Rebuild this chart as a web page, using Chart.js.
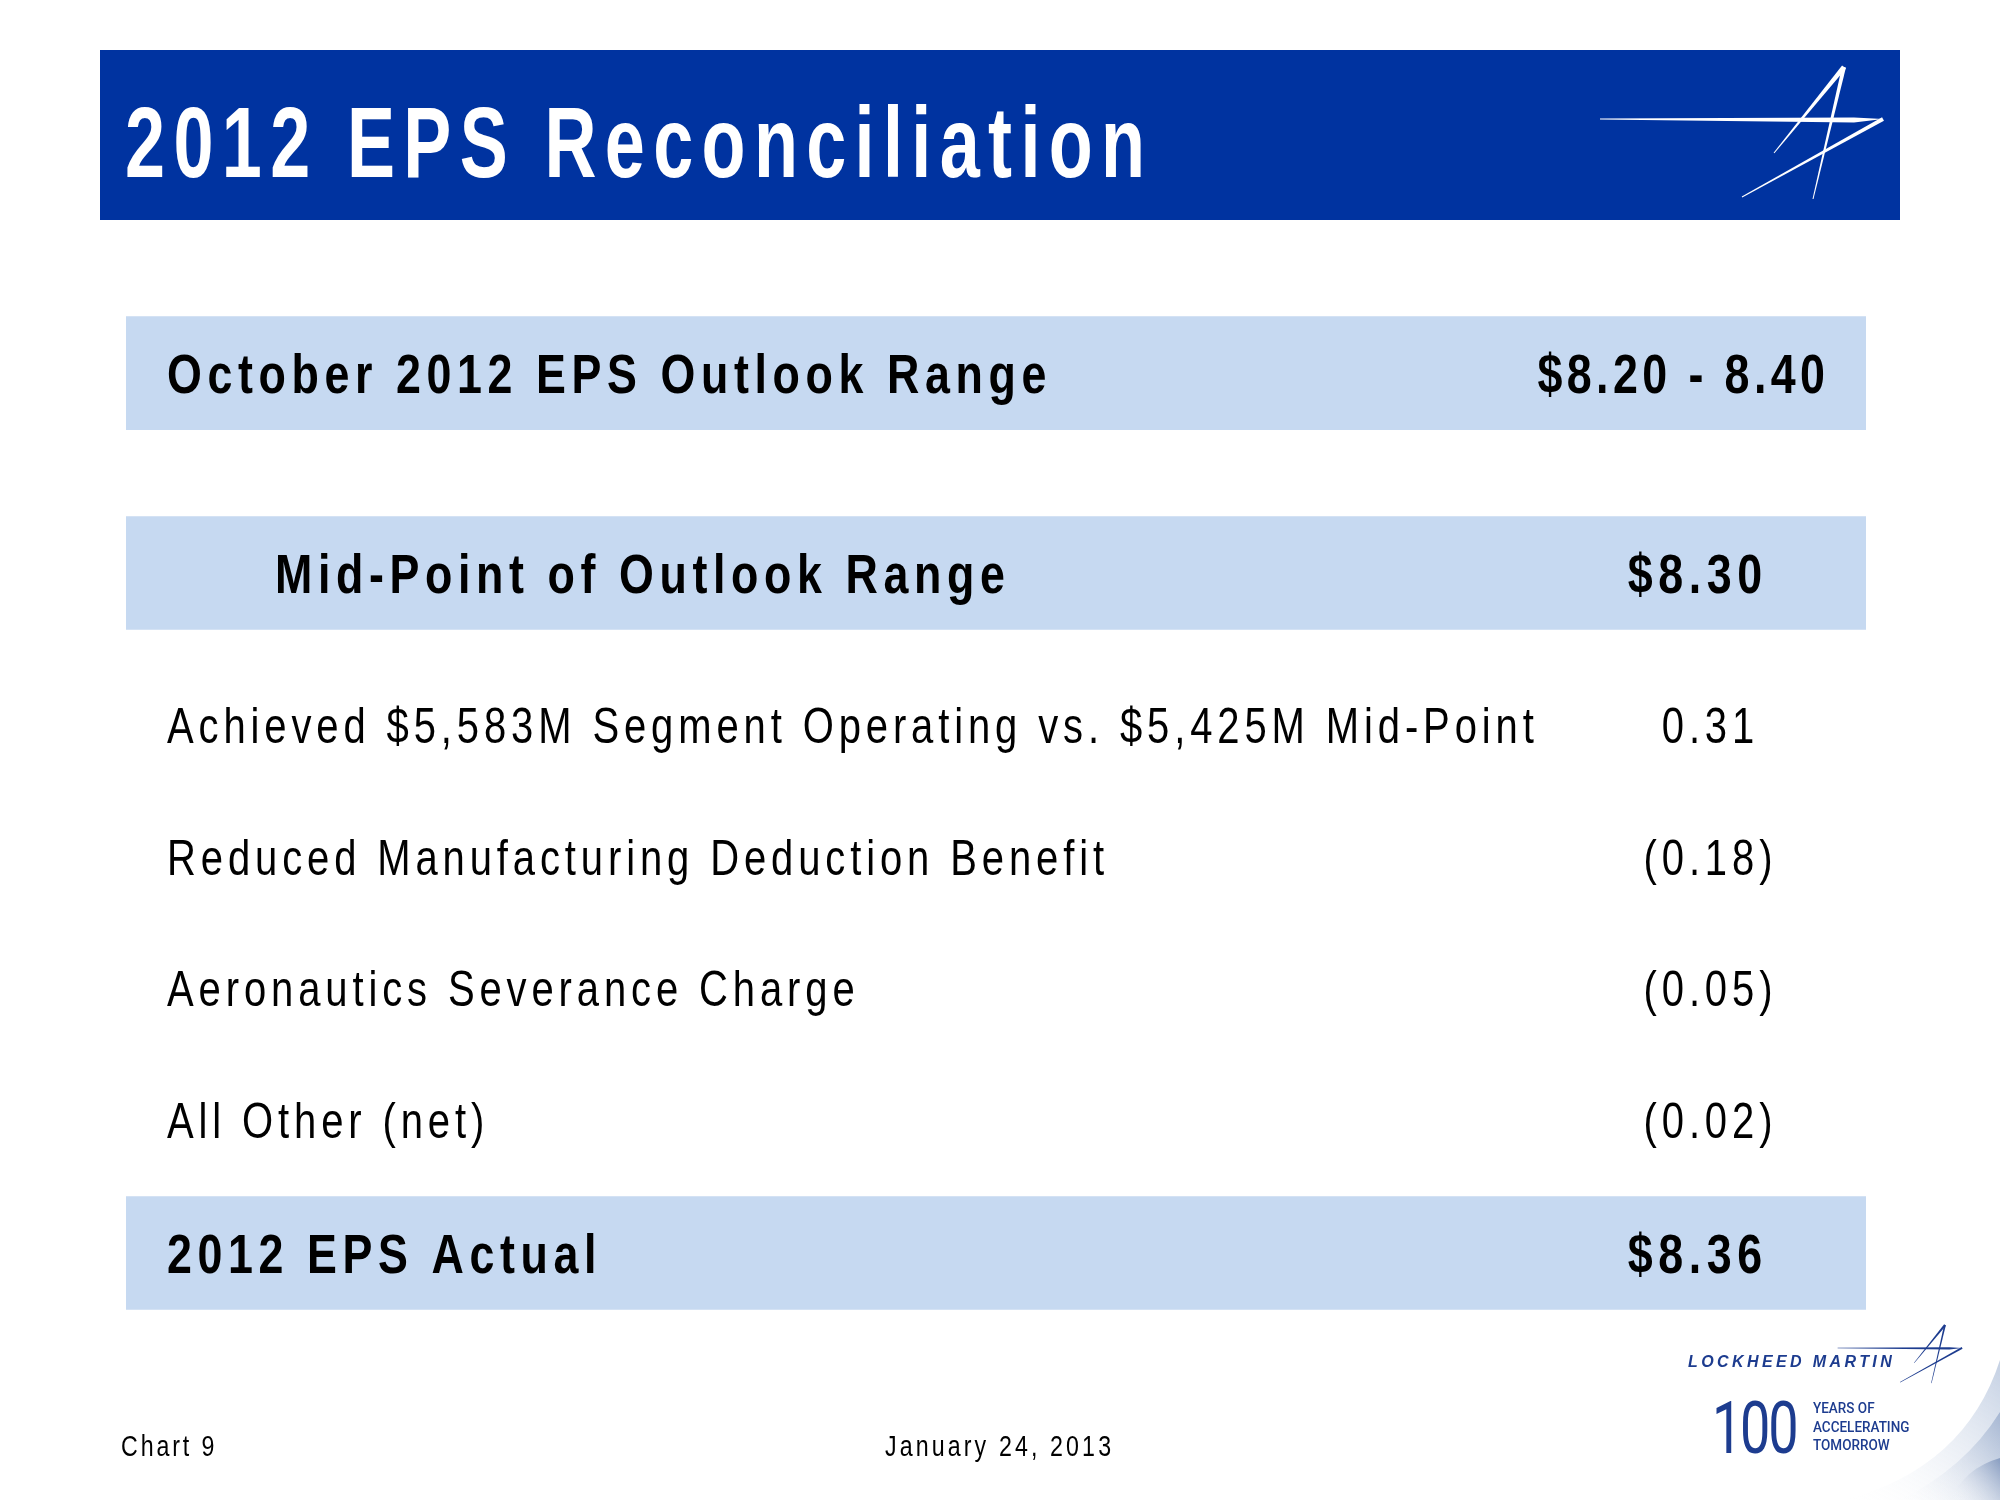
<!DOCTYPE html>
<html>
<head>
<meta charset="utf-8">
<script src="https://cdn.jsdelivr.net/npm/chart.js@4.4.0/dist/chart.umd.min.js"></script>
<style>
  html, body { margin: 0; padding: 0; background: #fff; }
  canvas { display: block; }
</style>
</head>
<body>
<canvas id="myChart" width="2000" height="1500"></canvas>
<script>
// rows of the reconciliation table
var rowLabels = [
    'October 2012 EPS Outlook Range',
    'Mid-Point of Outlook Range',
    'Achieved $5,583M Segment Operating vs. $5,425M Mid-Point',
    'Reduced Manufacturing Deduction Benefit',
    'Aeronautics Severance Charge',
    'All Other (net)',
    '2012 EPS Actual'
];
var outlookRange = [8.20, 8.40];
var rowValues = [null, 8.30, 0.31, -0.18, -0.05, -0.02, 8.36];
var highlighted = [true, true, false, false, false, false, true];
// slot of each row on the (hidden) vertical axis
var rowSlots = [0, 3.02, 5.32, 7.31, 9.29, 11.28, 13.29];

var FONT = "'Liberation Sans', Arial, sans-serif";
var SX = 0.8; // narrow look

function formatValue(i) {
    var v = rowValues[i];
    if (i === 0) return '$' + outlookRange[0].toFixed(2) + ' - ' + outlookRange[1].toFixed(2);
    if (highlighted[i]) return '$' + v.toFixed(2);
    return v < 0 ? '(' + Math.abs(v).toFixed(2) + ')' : v.toFixed(2);
}

// draws text narrowed horizontally with extra letter spacing
function drawText(ctx, str, x, y, o) {
    var sx = o.sx || SX;
    ctx.save();
    ctx.font = (o.style || 'normal') + ' ' + (o.weight || 'normal') + ' ' + o.size + 'px ' + (o.family || FONT);
    ctx.letterSpacing = '0px';
    var w = ctx.measureText(str).width;
    var sp = o.spacing || 0;
    w = (w + sp * (str.length - 1)) * sx;
    var x0 = x;
    if (o.align === 'center') x0 = x - w / 2;
    if (o.align === 'right') x0 = x - w;
    ctx.letterSpacing = sp + 'px';
    ctx.fillStyle = o.color || '#000';
    ctx.textAlign = 'left';
    ctx.textBaseline = 'alphabetic';
    ctx.translate(x0, y);
    ctx.scale(sx, 1);
    ctx.fillText(str, 0, 0);
    ctx.restore();
}

function taper(ctx, x1, y1, w1, x2, y2, w2) {
    var dx = x2 - x1, dy = y2 - y1, len = Math.sqrt(dx * dx + dy * dy);
    var nx = -dy / len, ny = dx / len;
    ctx.beginPath();
    ctx.moveTo(x1 + nx * w1 / 2, y1 + ny * w1 / 2);
    ctx.lineTo(x2 + nx * w2 / 2, y2 + ny * w2 / 2);
    ctx.lineTo(x2 - nx * w2 / 2, y2 - ny * w2 / 2);
    ctx.lineTo(x1 - nx * w1 / 2, y1 - ny * w1 / 2);
    ctx.closePath();
    ctx.fill();
}

// the star logo, apex at (ax, ay)
function drawStar(ctx, ax, ay, s, color) {
    ctx.save();
    ctx.translate(ax, ay);
    ctx.scale(s, s);
    ctx.fillStyle = color;
    ctx.beginPath();
    ctx.moveTo(-244, 51.6);
    ctx.lineTo(10, 50.5);
    ctx.lineTo(39, 52);
    ctx.lineTo(10, 55.5);
    ctx.lineTo(-244, 52.6);
    ctx.closePath();
    ctx.fill();
    taper(ctx, 0, 0, 5, -70, 86, 1);
    taper(ctx, 0, 0, 4, -31, 132, 1);
    taper(ctx, 39, 52, 4, -102, 130, 1);
    ctx.restore();
}

var slidePlugin = {
    id: 'slide',
    beforeDraw: function (chart) {
        var ctx = chart.ctx;
        // title banner
        ctx.save();
        ctx.fillStyle = '#0033A0';
        ctx.fillRect(100, 50, 1800, 170);
        ctx.restore();
        drawText(ctx, '2012 EPS Reconciliation', 125, 177, { size: 100, weight: 'bold', spacing: 11.6, sx: 0.72, color: '#fff' });
        drawStar(ctx, 1844, 67, 1, '#fff');

        // corner swoosh
        var layers = [
            { x0: 1845, y1: 1360, c: 'rgba(196,208,227,1)' },
            { x0: 1900, y1: 1412, c: 'rgba(165,182,210,1)' },
            { x0: 1950, y1: 1458, c: 'rgba(135,156,192,1)' }
        ];
        layers.forEach(function (l) {
            var g = ctx.createLinearGradient(l.x0, 1500, 2000, l.y1);
            g.addColorStop(0, 'rgba(255,255,255,0)');
            g.addColorStop(1, l.c);
            ctx.save();
            ctx.fillStyle = g;
            ctx.beginPath();
            ctx.moveTo(l.x0, 1500);
            ctx.quadraticCurveTo(1965, 1468, 2000, l.y1);
            ctx.lineTo(2000, 1500);
            ctx.closePath();
            ctx.fill();
            ctx.restore();
        });
    },
    afterDatasetsDraw: function (chart) {
        var ctx = chart.ctx;
        var ca = chart.chartArea;
        var y = chart.scales.y;
        rowLabels.forEach(function (label, i) {
            var cy = y.getPixelForValue(rowSlots[i]);
            var bold = highlighted[i];
            var st = bold ? { size: 56, weight: 'bold', spacing: 7 } : { size: 50, spacing: 6.1 };
            var base = cy + (bold ? 20 : 18);
            var lx = ca.left + (i === 1 ? 149 : 41);
            drawText(ctx, label, lx, base, st);
            var val = formatValue(i);
            if (i === 0) {
                drawText(ctx, val, ca.right - 41, base, Object.assign({ align: 'right' }, st, { spacing: 5.5 }));
            } else if (bold) {
                drawText(ctx, val, ca.right - 171, base, Object.assign({ align: 'center' }, st));
            } else {
                drawText(ctx, val, ca.right - 158, base, Object.assign({ align: 'center' }, st));
            }
        });

        // footer
        drawText(ctx, 'Chart 9', 121, 1456, { size: 29, spacing: 3.6 });
        drawText(ctx, 'January 24, 2013', 998, 1456, { size: 29, spacing: 3.9, align: 'center' });

        // company logo
        var navy = '#1D3C8F';
        drawText(ctx, 'LOCKHEED MARTIN', 1688, 1367, { size: 16, weight: 'bold', style: 'italic', spacing: 3.4, sx: 1, color: navy });
        drawStar(ctx, 1945, 1325, 0.44, navy);
        drawText(ctx, '100', 1712, 1453, { size: 72, weight: 'normal', family: "Roboto, 'Liberation Sans', sans-serif", sx: 0.75, spacing: -3, color: navy });
        var small = { size: 15, sx: 0.9, family: "Roboto, 'Liberation Sans', sans-serif", weight: '500', color: navy };
        drawText(ctx, 'YEARS OF', 1813, 1413, small);
        drawText(ctx, 'ACCELERATING', 1813, 1432, small);
        drawText(ctx, 'TOMORROW', 1813, 1450, small);
    }
};

// highlight bands for the bold rows
var bands = [];
rowLabels.forEach(function (label, i) {
    if (highlighted[i]) bands.push({ x: [0, 1], y: rowSlots[i] });
});

var ctx = document.getElementById('myChart').getContext('2d');
var myChart = new Chart(ctx, {
    type: 'bar',
    data: {
        datasets: [{
            label: 'Highlight',
            data: bands,
            backgroundColor: '#C6D9F1',
            borderWidth: 0,
            barThickness: 113
        }]
    },
    options: {
        indexAxis: 'y',
        responsive: false,
        animation: false,
        devicePixelRatio: 1,
        layout: { padding: { left: 126, right: 134, top: 0, bottom: 0 } },
        plugins: {
            legend: { display: false },
            tooltip: { enabled: false },
            title: { display: false }
        },
        scales: {
            x: { type: 'linear', min: 0, max: 1, display: false, offset: false },
            y: { type: 'linear', min: -5.634, max: 17.02, reverse: true, display: false, offset: false }
        }
    },
    plugins: [slidePlugin]
});
</script>
</body>
</html>
